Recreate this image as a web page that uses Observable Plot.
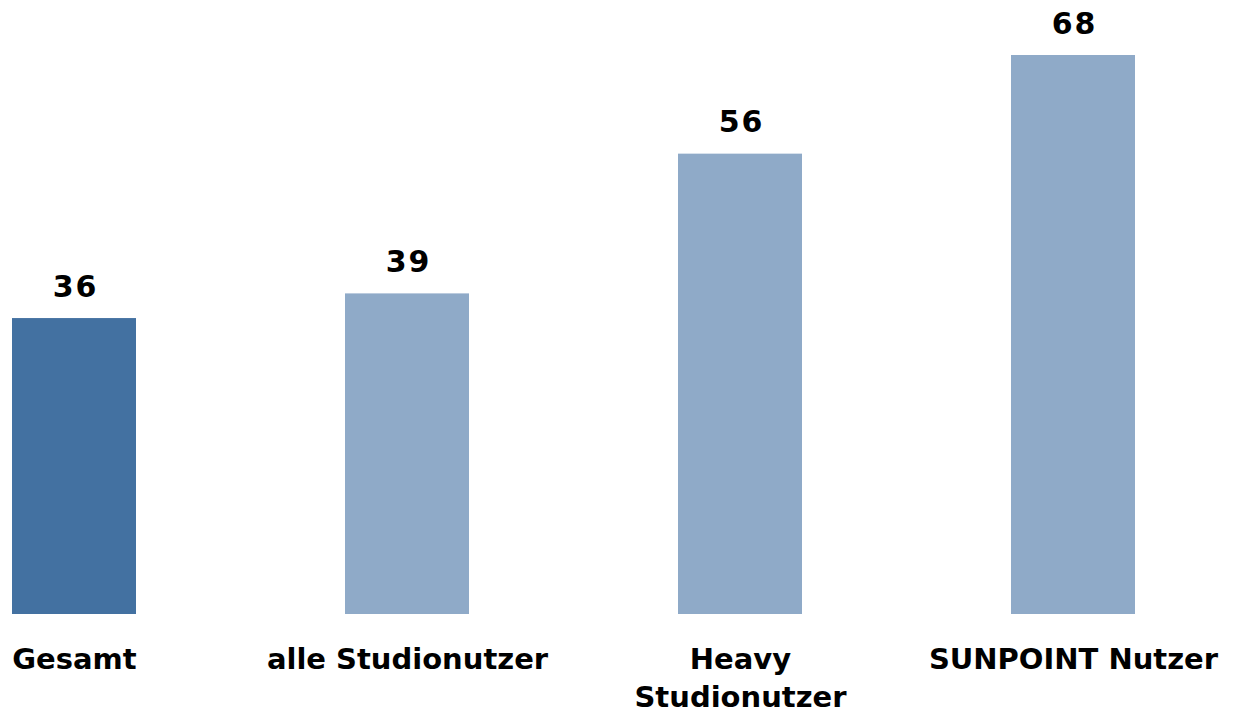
<!DOCTYPE html>
<html>
<head>
<meta charset="utf-8">
<script src="https://cdn.jsdelivr.net/npm/d3@7"></script>
<script src="https://cdn.jsdelivr.net/npm/@observablehq/plot@0.6"></script>
<style>
  html, body { margin: 0; padding: 0; background: #fff; }
</style>
</head>
<body>
<div id="chart"></div>
<script>
const categories = ["Gesamt", "alle Studionutzer", "Heavy\nStudionutzer", "SUNPOINT Nutzer"];
const values = [36, 39, 56, 68];
const barColors = ["#4371a1", "#8faac8", "#8faac8", "#8faac8"];

const data = categories.map((c, i) => ({ cat: c, value: values[i], color: barColors[i] }));

const chart = Plot.plot({
  width: 1235,
  height: 714,
  marginTop: 55,
  marginBottom: 100,
  marginLeft: 12,
  marginRight: 100,
  style: { fontFamily: "DejaVu Sans, Verdana, sans-serif", background: "#fff", color: "#000" },
  x: { domain: categories, paddingInner: 0.628, paddingOuter: 0, align: 0.5, label: null },
  y: { domain: [0, 68], axis: null },
  marks: [
    Plot.barY(data, { x: "cat", y: "value", fill: "color" }),
    Plot.text(data, {
      x: "cat", y: "value", text: d => String(d.value),
      lineAnchor: "bottom", dy: -22, fontSize: 30, fontWeight: "bold", fill: "#000"
    }),
    Plot.axisX({
      tickSize: 0, tickPadding: 27, fontSize: 29, fontWeight: "bold",
      lineHeight: 1.32, fill: "#000", label: null
    })
  ]
});
// slightly spaced value labels, as in the reference
d3.select(chart).selectAll("g[aria-label='text'] text").attr("letter-spacing", "2px").attr("dx", "1");
document.getElementById("chart").appendChild(chart);
</script>
</body>
</html>
